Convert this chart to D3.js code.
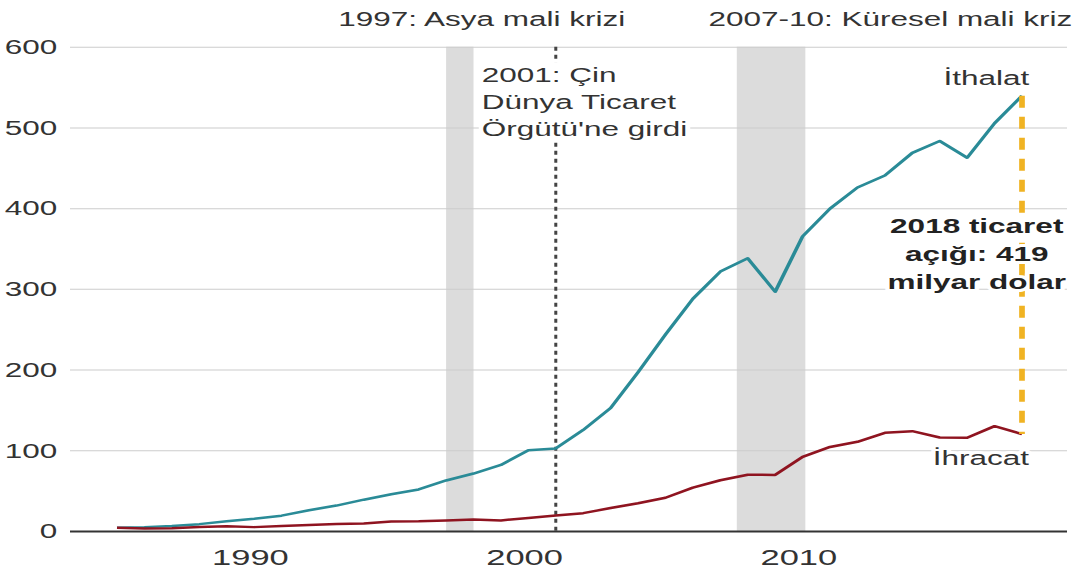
<!DOCTYPE html>
<html>
<head>
<meta charset="utf-8">
<script src="https://cdn.jsdelivr.net/npm/d3@7"></script>
<style>
    html, body { margin: 0; padding: 0; background: #fff; }
    svg { display: block; }
    text { font-family: "Liberation Sans", Arial, Helvetica, sans-serif; fill: #222; }
</style>
</head>
<body>
<div id="chart"></div>
<script>
// US trade in goods with China, billion dollars
const years = [1985, 1986, 1987, 1988, 1989, 1990, 1991, 1992, 1993, 1994, 1995, 1996,
    1997, 1998, 1999, 2000, 2001, 2002, 2003, 2004, 2005, 2006, 2007, 2008, 2009,
    2010, 2011, 2012, 2013, 2014, 2015, 2016, 2017, 2018];
const imports = [3.9, 4.8, 6.3, 8.5, 12.0, 15.2, 19.0, 25.7, 31.5, 38.8, 45.5, 51.5,
    62.6, 71.2, 81.8, 100.0, 102.3, 125.2, 152.4, 196.7, 243.5, 287.8, 321.4, 337.8, 296.4,
    365.0, 399.4, 425.6, 440.4, 468.5, 483.2, 462.4, 505.2, 539.2];
const exports = [3.9, 3.1, 3.5, 5.0, 5.8, 4.8, 6.3, 7.4, 8.8, 9.3, 11.8, 12.0,
    12.9, 14.2, 13.1, 16.2, 19.2, 22.1, 28.4, 34.4, 41.2, 53.7, 62.9, 69.7, 69.5,
    91.9, 104.1, 110.5, 121.7, 123.7, 115.9, 115.6, 129.9, 120.1];
const yTicks = [0, 100, 200, 300, 400, 500, 600];
const xTicks = [1990, 2000, 2010];
const crisisBands = [
    { start: 1997, end: 1998, label: "1997: Asya mali krizi", labelAt: 1998.3 },
    { start: 2007.6, end: 2010.1, label: "2007-10: Küresel mali kriz", labelAt: 2013.2 }
];
const wtoYear = 2001;
const wtoNote = ["2001: Çin", "Dünya Ticaret", "Örgütü'ne girdi"];
const gapNote = ["2018 ticaret", "açığı: 419", "milyar dolar"];

// the reference picture is stretched sideways, so draw narrow and stretch the svg
const SX = 1.5;
const W = 1081 / SX, H = 574;
const left = 70 / SX, right = 1067 / SX;

const svg = d3.select("#chart")
    .append("svg")
    .attr("width", 1081)
    .attr("height", H)
    .attr("viewBox", `0 0 ${W} ${H}`)
    .attr("preserveAspectRatio", "none");

const x = d3.scaleLinear()
    .domain([1985, 2018])
    .range([117 / SX, 1022 / SX]);

const y = d3.scaleLinear()
    .domain([0, 600])
    .range([531, 46.7]);

// grey crisis bands
svg.selectAll(".band")
    .data(crisisBands)
    .enter()
    .append("rect")
    .attr("class", "band")
    .attr("x", d => x(d.start))
    .attr("width", d => x(d.end) - x(d.start))
    .attr("y", y(600))
    .attr("height", y(0) - y(600))
    .attr("fill", "#dcdcdc");

svg.selectAll(".band-label")
    .data(crisisBands)
    .enter()
    .append("text")
    .attr("x", d => x(d.labelAt))
    .attr("y", 26)
    .attr("text-anchor", "middle")
    .style("font-size", "21px")
    .style("fill", "#333")
    .text(d => d.label);

// gridlines + y labels
const yAxis = svg.append("g")
    .attr("class", "y-axis")
    .attr("transform", `translate(${left},0)`)
    .call(d3.axisLeft(y).tickValues(yTicks).tickSize(-(right - left)).tickPadding(8.5));

yAxis.select(".domain").remove();
yAxis.selectAll(".tick line")
    .attr("stroke", d => d === 0 ? "#333" : "#cccccc")
    .attr("stroke-width", d => d === 0 ? 2 : 1);
yAxis.selectAll(".tick text")
    .style("font-size", "21px")
    .style("fill", "#333")
    .style("font-family", "'Liberation Sans', Arial, sans-serif");

// x labels
const xAxis = svg.append("g")
    .attr("class", "x-axis")
    .attr("transform", `translate(0,${y(0)})`)
    .call(d3.axisBottom(x).tickValues(xTicks).tickSize(0).tickFormat(d3.format("d")));

xAxis.select(".domain").remove();
xAxis.selectAll(".tick text")
    .attr("y", 34)
    .attr("dy", 0)
    .attr("dx", -3)
    .style("font-size", "23px")
    .style("fill", "#333")
    .style("font-family", "'Liberation Sans', Arial, sans-serif");

// WTO entry
svg.append("line")
    .attr("x1", x(wtoYear))
    .attr("x2", x(wtoYear))
    .attr("y1", y(600))
    .attr("y2", y(0))
    .attr("stroke", "#444")
    .attr("stroke-width", 2)
    .attr("stroke-dasharray", "4,4");

const wto = svg.append("g");
wto.selectAll("text")
    .data(wtoNote)
    .enter()
    .append("text")
    .attr("x", x(1998.3))
    .attr("y", (d, i) => 82 + i * 27)
    .style("font-size", "21px")
    .style("fill", "#333")
    .text(d => d);
const box = wto.node().getBBox();
wto.insert("rect", "text")
    .attr("x", box.x - 2)
    .attr("y", box.y - 1)
    .attr("width", box.width + 4)
    .attr("height", box.height + 2)
    .attr("fill", "#fff");

// series
const importData = years.map((yr, i) => ({ year: yr, value: imports[i] }));
const exportData = years.map((yr, i) => ({ year: yr, value: exports[i] }));

const line = d3.line()
    .x(d => x(d.year))
    .y(d => y(d.value));

svg.append("path")
    .datum(importData)
    .attr("fill", "none")
    .attr("stroke", "#2a8b97")
    .attr("stroke-width", 2.5)
    .attr("stroke-linejoin", "round")
    .attr("d", line);

svg.append("path")
    .datum(exportData)
    .attr("fill", "none")
    .attr("stroke", "#8f1420")
    .attr("stroke-width", 2.5)
    .attr("stroke-linejoin", "round")
    .attr("d", line);

// 2018 deficit
const last = years.length - 1;
svg.append("line")
    .attr("x1", x(years[last]))
    .attr("x2", x(years[last]))
    .attr("y1", y(imports[last]))
    .attr("y2", y(exports[last]))
    .attr("stroke", "#f0b323")
    .attr("stroke-width", 3.8)
    .attr("stroke-dasharray", "12,9");

function halo(sel) {
    sel.style("paint-order", "stroke")
        .style("stroke", "#fff")
        .style("stroke-width", "6px")
        .style("stroke-linejoin", "round");
}

svg.selectAll(".gap-label")
    .data(gapNote)
    .enter()
    .append("text")
    .attr("x", x(2016.35))
    .attr("y", (d, i) => 233 + i * 28)
    .attr("text-anchor", "middle")
    .style("font-size", "21px")
    .style("font-weight", "bold")
    .style("fill", "#222")
    .call(halo)
    .text(d => d);

svg.append("text")
    .attr("x", x(2016.7))
    .attr("y", 85)
    .attr("text-anchor", "middle")
    .style("font-size", "21px")
    .style("fill", "#333")
    .call(halo)
    .text("İthalat");

svg.append("text")
    .attr("x", x(2016.5))
    .attr("y", 465)
    .attr("text-anchor", "middle")
    .style("font-size", "21px")
    .style("fill", "#333")
    .call(halo)
    .text("İhracat");
</script>
</body>
</html>
